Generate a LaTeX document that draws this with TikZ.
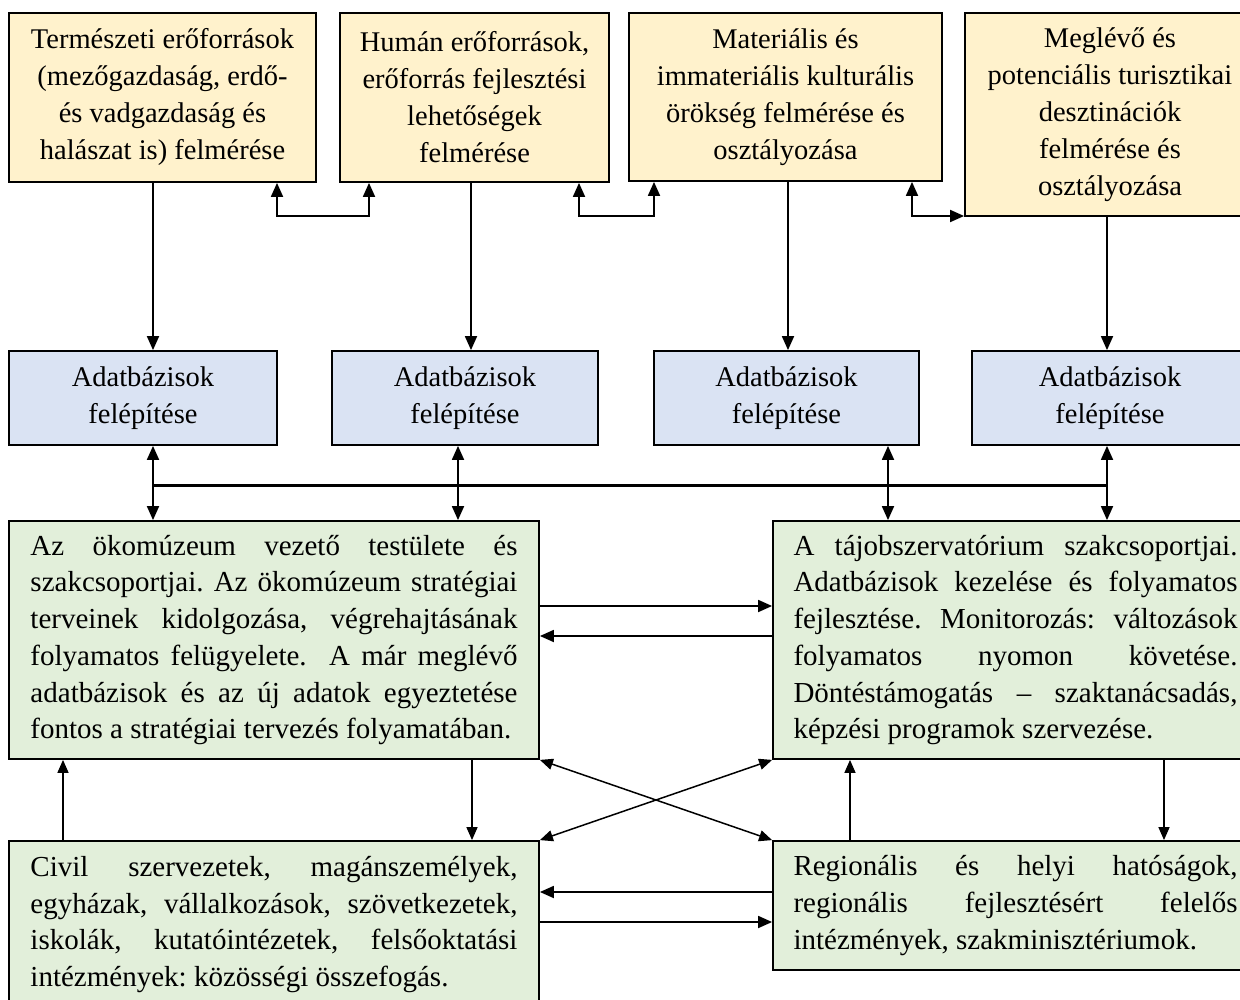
\documentclass[tikz,border=0pt]{standalone}
\usepackage{fontspec}
\setmainfont{Liberation Serif}
\usetikzlibrary{arrows.meta,calc}
\definecolor{tanc}{HTML}{FFF2CC}
\definecolor{bluec}{HTML}{DAE3F3}
\definecolor{greenc}{HTML}{E2EFDA}
\newcommand\nsp{\spaceskip=0pt\xspaceskip=0pt\frenchspacing\relax}
\newcommand\jl[2]{{\nsp\makebox[#1][s]{#2}}}
\newcommand\jn[1]{{\nsp\mbox{#1}}}
\begin{document}
\begin{tikzpicture}[x=1pt,y=-1pt,
  box/.style={draw=black,line width=1.8pt,inner sep=0pt,align=center,
    font=\fontsize{28.5}{37}\selectfont},
  tanbox/.style={box,fill=tanc},
  bluebox/.style={box,fill=bluec},
  greenbox/.style={box,fill=greenc,align=left,font=\fontsize{29}{36.7}\selectfont},
  arr/.style={line width=1.8pt,-{Triangle[length=14pt,width=12pt]}},
  darr/.style={line width=1.8pt,{Triangle[length=14pt,width=12pt]}-{Triangle[length=14pt,width=12pt]}},
  tarr/.style={line width=1.5pt,-{Triangle[length=13pt,width=11pt]}},
  tdarr/.style={line width=1.5pt,{Triangle[length=13pt,width=11pt]}-{Triangle[length=13pt,width=11pt]}}
]
\useasboundingbox (0,0) rectangle (1240,1000);
\fill[white] (0,0) rectangle (1240,1000);

% top boxes
\node[tanbox,minimum width=307pt,minimum height=169pt] (t1) at (162.5,97.5)
  {\nsp Természeti erőforrások\\(mezőgazdaság, erdő-\\és vadgazdaság és\\halászat is) felmérése};
\node[tanbox,minimum width=269pt,minimum height=169pt] (t2) at (474.5,97.5)
  {\nsp Humán erőforrások,\\erőforrás fejlesztési\\lehetőségek\\felmérése};
\node[tanbox,minimum width=313pt,minimum height=168pt] (t3) at (785.5,97)
  {\nsp Materiális és\\immateriális kulturális\\örökség felmérése és\\osztályozása};
\node[tanbox,minimum width=290pt,minimum height=203pt] (t4) at (1110,114.5)
  {\nsp Meglévő és\\potenciális turisztikai\\desztinációk\\felmérése és\\osztályozása};

% blue boxes
\node[bluebox,minimum width=268pt,minimum height=94pt] (b1) at (143,398) {Adatbázisok\\felépítése};
\node[bluebox,minimum width=266pt,minimum height=94pt] (b2) at (465,398) {Adatbázisok\\felépítése};
\node[bluebox,minimum width=265pt,minimum height=94pt] (b3) at (786.5,398) {Adatbázisok\\felépítése};
\node[bluebox,minimum width=276pt,minimum height=94pt] (b4) at (1110,398) {Adatbázisok\\felépítése};

% green boxes
\node[greenbox,text width=487pt,minimum width=530pt,minimum height=238pt] (gL) at (274,640)
  {\jl{487pt}{Az ökomúzeum vezető testülete és}\\
   \jl{487pt}{szakcsoportjai. Az ökomúzeum stratégiai}\\
   \jl{487pt}{terveinek kidolgozása, végrehajtásának}\\
   \jl{487pt}{folyamatos felügyelete. \ A már meglévő}\\
   \jl{487pt}{adatbázisok és az új adatok egyeztetése}\\
   \jn{fontos a stratégiai tervezés folyamatában.}};
\node[greenbox,text width=444pt,minimum width=485pt,minimum height=238pt] (gR) at (1015.5,640)
  {\jl{444pt}{A tájobszervatórium szakcsoportjai.}\\
   \jl{444pt}{Adatbázisok kezelése és folyamatos}\\
   \jl{444pt}{fejlesztése. Monitorozás: változások}\\
   \jl{444pt}{folyamatos nyomon követése.}\\
   \jl{444pt}{Döntéstámogatás – szaktanácsadás,}\\
   \jn{képzési programok szervezése.}};
\node[greenbox,text width=487pt,minimum width=530pt,minimum height=167pt] (cL) at (274,924.5)
  {\jl{487pt}{Civil szervezetek, magánszemélyek,}\\
   \jl{487pt}{egyházak, vállalkozások, szövetkezetek,}\\
   \jl{487pt}{iskolák, kutatóintézetek, felsőoktatási}\\
   \jn{intézmények: közösségi összefogás.}};
\node[greenbox,text width=444pt,minimum width=485pt,minimum height=129pt] (cR) at (1015.5,905.5)
  {\jl{444pt}{Regionális és helyi hatóságok,}\\
   \jl{444pt}{regionális fejlesztésért felelős}\\
   \jn{intézmények, szakminisztériumok.}};

% helper coordinates
\coordinate (v1) at (153,0);
\coordinate (v2) at (471,0);
\coordinate (v3) at (788,0);
\coordinate (v4) at (1107,0);
\coordinate (d2) at (458,0);
\coordinate (d3) at (888,0);
\coordinate (e1) at (277,216);
\coordinate (e2) at (369,216);
\coordinate (e3) at (579,216);
\coordinate (e4) at (654,216);
\coordinate (e5) at (912,216);
\coordinate (bus) at (0,485);
\coordinate (h1) at (0,606);
\coordinate (h2) at (0,636);
\coordinate (h3) at (0,892);
\coordinate (h4) at (0,922);
\coordinate (u1) at (63,0);
\coordinate (u2) at (472,0);
\coordinate (u3) at (850,0);
\coordinate (u4) at (1164,0);

% top to blue
\draw[arr] (t1.south -| v1) -- (b1.north -| v1);
\draw[arr] (t2.south -| v2) -- (b2.north -| v2);
\draw[arr] (t3.south -| v3) -- (b3.north -| v3);
\draw[arr] (t4.south -| v4) -- (b4.north -| v4);

% bent links between top boxes
\draw[darr] (t1.south -| e1) -- (e1) -- (e2) -- (t2.south -| e2);
\draw[darr] (t2.south -| e3) -- (e3) -- (e4) -- (t3.south -| e4);
\draw[darr] (t3.south -| e5) -- (e5) -- (e5 -| t4.west);

% bus
\draw[line width=3pt] (bus -| v1) -- (bus -| v4);
\draw[darr] (b1.south -| v1) -- (gL.north -| v1);
\draw[darr] (b2.south -| d2) -- (gL.north -| d2);
\draw[darr] (b3.south -| d3) -- (gR.north -| d3);
\draw[darr] (b4.south -| v4) -- (gR.north -| v4);

% horizontals between green boxes
\draw[arr] (gL.east |- h1) -- (gR.west |- h1);
\draw[arr] (gR.west |- h2) -- (gL.east |- h2);
\draw[arr] (cR.west |- h3) -- (cL.east |- h3);
\draw[arr] (cL.east |- h4) -- (cR.west |- h4);

% verticals between green boxes
\draw[tarr] (cL.north -| u1) -- (gL.south -| u1);
\draw[tarr] (gL.south -| u2) -- (cL.north -| u2);
\draw[tarr] (cR.north -| u3) -- (gR.south -| u3);
\draw[tarr] (gR.south -| u4) -- (cR.north -| u4);

% cross
\draw[tdarr] (gL.south east) -- (cR.north west);
\draw[tdarr] (gR.south west) -- (cL.north east);
\end{tikzpicture}
\end{document}
